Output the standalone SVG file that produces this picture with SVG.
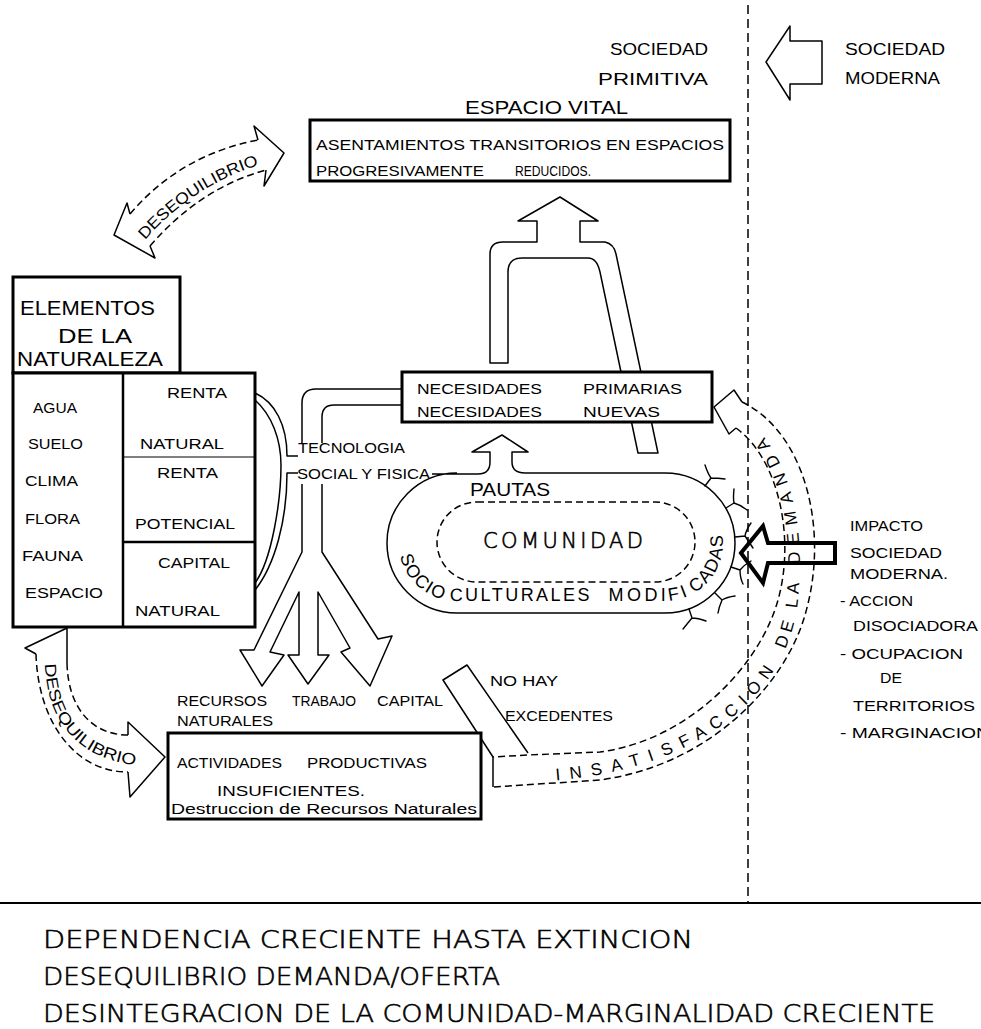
<svg xmlns="http://www.w3.org/2000/svg" width="981" height="1029" viewBox="0 0 981 1029">
<defs>
<style>
text{font-family:"Liberation Sans Narrow","Liberation Sans",Arial,sans-serif;fill:#000}
.f14{font-size:14px}
.f15{font-size:15px}
.f17{font-size:17px}
.f19{font-size:19px}
.f20{font-size:20px}
.thin{font-family:"DejaVu Sans","Liberation Sans",sans-serif;font-weight:200;stroke:#000;stroke-width:0.6}
.f25{font-size:25px}
.box{fill:#fff;stroke:#000;stroke-width:3}
.ln{fill:none;stroke:#000;stroke-width:1.5;stroke-linejoin:round}
.wf{fill:#fff;stroke:#000;stroke-width:1.5;stroke-linejoin:round}
.dsh{fill:none;stroke:#000;stroke-width:1.5;stroke-dasharray:7 4}
.ray{fill:none;stroke:#000;stroke-width:1.4;stroke-linecap:round}
</style>
<path id="pDesTop" d="M145,240 Q195,183 266,163"/>
<path id="pDesBot" d="M45,664 C47,728 85,765 152,766"/>
<path id="pSocio" d="M399,550 A58,58 0 0 0 457,601 L665,601 A58,58 0 0 0 715,514"/>
<path id="pInsat" d="M548,781 C690,772 788,700 798,600 C806,520 788,455 748,420"/>
</defs>
<rect width="981" height="1029" fill="#fff"/>

<g id="sociedad-header">
<text class="f17" x="610" y="55" textLength="98" lengthAdjust="spacingAndGlyphs">SOCIEDAD</text>
<text class="f17" x="598" y="85" textLength="110" lengthAdjust="spacingAndGlyphs">PRIMITIVA</text>
<path class="wf" d="M766,62 L790,26 L790,41 L822,41 L822,84 L790,84 L790,100 Z"/>
<text class="f17" x="845" y="55" textLength="100" lengthAdjust="spacingAndGlyphs">SOCIEDAD</text>
<text class="f17" x="845" y="84" textLength="95" lengthAdjust="spacingAndGlyphs">MODERNA</text>
</g>

<g id="connectors">
<g id="desequilibrio-top">
<path d="M130,214 Q180,155 258,140 L254,126 L284,153 L264,186 L266,170 Q200,188 150,246 L155,258 L114,235 L127,203 Z" fill="#fff"/>
<path class="dsh" d="M130,214 Q180,155 258,140"/>
<path class="dsh" d="M150,246 Q200,188 266,170"/>
<path class="ln" d="M258,140 L254,126 L284,153 L264,186 L266,170"/>
<path class="ln" d="M150,246 L155,258 L114,235 L127,203 L130,214"/>
<text style="font-size:16px"><textPath href="#pDesTop" textLength="138" lengthAdjust="spacingAndGlyphs">DESEQUILIBRIO</textPath></text>
</g>
<g id="desequilibrio-bottom">
<path class="dsh" d="M36,654 C38,722 75,772 128,772"/>
<path class="dsh" d="M67,663 C68,708 92,735 128,735"/>
<path class="ln" d="M67,663 L67,628 L25,648 L36,654"/>
<path class="ln" d="M128,772 L130,797 L165,757 L128,722 L128,735"/>
<text style="font-size:16px"><textPath href="#pDesBot" textLength="150" lengthAdjust="spacingAndGlyphs">DESEQUILIBRIO</textPath></text>
</g>
<path class="ln" d="M255,393 C275,402 287,425 287,456 L298,456"/>
<path class="ln" d="M255,400 C272,415 281,440 281,465 C281,500 272,560 255,583"/>
<path class="ln" d="M298,473 L287,473 C287,520 275,565 255,590"/>
<path class="ln" d="M402,389 L316,389 Q302,389 302,403 L302,443"/>
<path class="ln" d="M402,405 L334,405 Q322,405 322,417 L322,443"/>
<path class="ln" d="M302,484 L302,552 L254,650 L240,650 L262,686 L284,655 L270,652 L299,592 L299,655 L288,655 L308,684 L329,655 L318,655 L318,592 L350,648 L341,652 L370,686 L392,636 L378,639 L322,552 L322,484"/>
<path class="wf" d="M508,363 L490,363 L490,254 Q490,242 503,242 L537,242 L537,221 L518,221 L560,197 L598,221 L580,221 L580,242 L605,242 Q614,244 616,254 L658,453 L638,453 L600,272 Q597,258 588,258 L522,258 Q508,258 508,272 Z"/>
<path class="ln" d="M493,757 L443,680 L467,665 L528,753"/>
<g id="insatisfaccion">
<path class="dsh" d="M742,402 C805,432 830,530 805,615 C785,685 710,765 600,780 L493,787"/>
<path class="dsh" d="M736,428 C780,460 795,540 778,600 C760,665 690,740 600,752 L528,755 L493,757"/>
<path class="ln" d="M493,757 L493,787"/>
<path class="ln" d="M742,402 L734,390 L714,407 L729,434 L736,428"/>
<text class="f17"><textPath href="#pInsat" startOffset="8" textLength="122" lengthAdjust="spacing">INSATIS</textPath></text>
<text class="f17"><textPath href="#pInsat" startOffset="139" textLength="122" lengthAdjust="spacing">FACCION</textPath></text>
<text class="f17"><textPath href="#pInsat" startOffset="285" textLength="68" lengthAdjust="spacing">DE LA</textPath></text>
<text class="f17"><textPath href="#pInsat" startOffset="372" textLength="134" lengthAdjust="spacing">DEMANDA</textPath></text>
</g>
<path id="impact-arrow" d="M741,553 L763,526 L768,543 L835,543 L835,563 L768,563 L763,583 Z" fill="none" stroke="#000" stroke-width="4" stroke-linejoin="miter"/>
</g>

<g id="espacio-vital">
<text class="f19" x="465" y="114" textLength="163" lengthAdjust="spacingAndGlyphs">ESPACIO  VITAL</text>
<rect class="box" x="310" y="120" width="420" height="61"/>
<text class="f15" x="316" y="150" textLength="408" lengthAdjust="spacingAndGlyphs">ASENTAMIENTOS  TRANSITORIOS  EN  ESPACIOS</text>
<text class="f15" x="316" y="176" textLength="168" lengthAdjust="spacingAndGlyphs">PROGRESIVAMENTE</text>
<text class="f14" x="515" y="176" textLength="76" lengthAdjust="spacingAndGlyphs">REDUCIDOS.</text>
</g>

<g id="elementos">
<rect class="box" x="13" y="277" width="167" height="96"/>
<text class="f20" x="20" y="315" textLength="135" lengthAdjust="spacingAndGlyphs">ELEMENTOS</text>
<text class="f20" x="58" y="343" textLength="74" lengthAdjust="spacingAndGlyphs">DE  LA</text>
<text class="f20" x="17" y="366" textLength="146" lengthAdjust="spacingAndGlyphs">NATURALEZA</text>
<rect class="box" x="13" y="373" width="242" height="254"/>
<line x1="123" y1="373" x2="123" y2="627" stroke="#000" stroke-width="2.5"/>
<line x1="123" y1="457" x2="255" y2="457" stroke="#000" stroke-width="1.2"/>
<line x1="123" y1="542" x2="255" y2="542" stroke="#000" stroke-width="2.5"/>
<text class="f14" x="33" y="413" textLength="44" lengthAdjust="spacingAndGlyphs">AGUA</text>
<text class="f14" x="28" y="449" textLength="55" lengthAdjust="spacingAndGlyphs">SUELO</text>
<text class="f14" x="25" y="486" textLength="53" lengthAdjust="spacingAndGlyphs">CLIMA</text>
<text class="f14" x="25" y="524" textLength="55" lengthAdjust="spacingAndGlyphs">FLORA</text>
<text class="f14" x="22" y="561" textLength="61" lengthAdjust="spacingAndGlyphs">FAUNA</text>
<text class="f14" x="25" y="598" textLength="78" lengthAdjust="spacingAndGlyphs">ESPACIO</text>
<text class="f14" x="167" y="398" textLength="60" lengthAdjust="spacingAndGlyphs">RENTA</text>
<text class="f14" x="140" y="449" textLength="84" lengthAdjust="spacingAndGlyphs">NATURAL</text>
<text class="f14" x="157" y="478" textLength="61" lengthAdjust="spacingAndGlyphs">RENTA</text>
<text class="f14" x="135" y="529" textLength="100" lengthAdjust="spacingAndGlyphs">POTENCIAL</text>
<text class="f14" x="158" y="568" textLength="72" lengthAdjust="spacingAndGlyphs">CAPITAL</text>
<text class="f14" x="135" y="616" textLength="85" lengthAdjust="spacingAndGlyphs">NATURAL</text>
</g>

<g id="necesidades">
<rect class="box" x="402" y="372" width="310" height="50"/>
<text class="f14" x="417" y="394" textLength="125" lengthAdjust="spacingAndGlyphs">NECESIDADES</text>
<text class="f14" x="583" y="394" textLength="99" lengthAdjust="spacingAndGlyphs">PRIMARIAS</text>
<text class="f14" x="417" y="417" textLength="125" lengthAdjust="spacingAndGlyphs">NECESIDADES</text>
<text class="f14" x="583" y="417" textLength="77" lengthAdjust="spacingAndGlyphs">NUEVAS</text>
</g>

<g id="tecnologia">
<text class="f14" x="298" y="453" textLength="107" lengthAdjust="spacingAndGlyphs">TECNOLOGIA</text>
<text class="f14" x="297" y="479" textLength="133" lengthAdjust="spacingAndGlyphs">SOCIAL Y FISICA</text>
</g>

<g id="comunidad">
<path class="ln" d="M432,474 L478,474 Q490,474 490,462 L490,452 L472,452 L502,435 L528,452 L512,452 L512,462 Q512,473 525,473 L665,473 A70,70 0 0 1 665,613 L457,613 A70,70 0 0 1 457,473"/>
<rect class="dsh" x="437" y="502" width="258" height="80" rx="40" ry="40"/>
<text style="font-size:18px" x="470" y="496" textLength="80" lengthAdjust="spacingAndGlyphs">PAUTAS</text>
<text class="thin" style="font-size:21px" x="483" y="548" textLength="160" lengthAdjust="spacing">COMUNIDAD</text>
<text style="font-size:18px"><textPath href="#pSocio" startOffset="6" textLength="64" lengthAdjust="spacing">SOCIO</textPath></text>
<text style="font-size:18px"><textPath href="#pSocio" startOffset="77" textLength="140" lengthAdjust="spacing">CULTURALES</textPath></text>
<text style="font-size:18px"><textPath href="#pSocio" startOffset="236" textLength="80" lengthAdjust="spacing">MODIFI</textPath></text>
<text style="font-size:18px"><textPath href="#pSocio" startOffset="323" textLength="68" lengthAdjust="spacing">CADAS</textPath></text>
<g id="rays">
<path class="ray" d="M705,486 L711,478 M705,465 Q708,474 711,478 Q718,478 725,479"/>
<path class="ray" d="M726,508 L734,503 M734,489 Q733,498 734,503 Q741,505 747,510"/>
<path class="ray" d="M735,537 L745,536 M751,523 Q746,530 745,536 Q749,542 753,548"/>
<path class="ray" d="M731,567 L740,570 M751,561 Q744,565 740,570 Q740,578 743,584"/>
<path class="ray" d="M715,593 L722,600 M735,596 Q727,597 722,600 Q719,607 718,613"/>
<path class="ray" d="M689,609 L692,618 M706,621 Q698,618 692,618 Q687,624 683,629"/>
</g>
</g>

<g id="recursos">
<text class="f15" x="177" y="706" textLength="90" lengthAdjust="spacingAndGlyphs">RECURSOS</text>
<text class="f15" x="177" y="726" textLength="96" lengthAdjust="spacingAndGlyphs">NATURALES</text>
<text class="f15" x="292" y="706" textLength="64" lengthAdjust="spacingAndGlyphs">TRABAJO</text>
<text class="f15" x="377" y="706" textLength="66" lengthAdjust="spacingAndGlyphs">CAPITAL</text>
<text class="f14" x="490" y="686" textLength="68" lengthAdjust="spacingAndGlyphs">NO  HAY</text>
<text class="f14" x="505" y="721" textLength="108" lengthAdjust="spacingAndGlyphs">EXCEDENTES</text>
</g>

<g id="actividades">
<rect class="box" x="168" y="733" width="313" height="86"/>
<text class="f14" x="177" y="768" textLength="105" lengthAdjust="spacingAndGlyphs">ACTIVIDADES</text>
<text class="f14" x="307" y="768" textLength="120" lengthAdjust="spacingAndGlyphs">PRODUCTIVAS</text>
<text class="f14" x="217" y="796" textLength="148" lengthAdjust="spacingAndGlyphs">INSUFICIENTES.</text>
<text class="f14" x="171" y="814" textLength="306" lengthAdjust="spacingAndGlyphs">Destruccion de Recursos Naturales</text>
</g>

<g id="impacto">
<text class="f14" x="850" y="531" textLength="73" lengthAdjust="spacingAndGlyphs">IMPACTO</text>
<text class="f14" x="850" y="558" textLength="92" lengthAdjust="spacingAndGlyphs">SOCIEDAD</text>
<text class="f14" x="850" y="579" textLength="98" lengthAdjust="spacingAndGlyphs">MODERNA.</text>
<text class="f14" x="840" y="606" textLength="73" lengthAdjust="spacingAndGlyphs">- ACCION</text>
<text class="f14" x="853" y="631" textLength="125" lengthAdjust="spacingAndGlyphs">DISOCIADORA</text>
<text class="f14" x="840" y="659" textLength="123" lengthAdjust="spacingAndGlyphs">- OCUPACION</text>
<text class="f14" x="880" y="683" textLength="22" lengthAdjust="spacingAndGlyphs">DE</text>
<text class="f14" x="853" y="711" textLength="122" lengthAdjust="spacingAndGlyphs">TERRITORIOS</text>
<text class="f14" x="840" y="738" textLength="150" lengthAdjust="spacingAndGlyphs">- MARGINACION</text>
</g>

<g id="divisores">
<line x1="748" y1="5" x2="748" y2="903" stroke="#000" stroke-width="1.5" stroke-dasharray="9 5"/>
<line x1="0" y1="903" x2="981" y2="903" stroke="#000" stroke-width="2"/>
</g>

<g id="conclusiones">
<text class="f25 thin" x="43" y="948" textLength="650" lengthAdjust="spacingAndGlyphs">DEPENDENCIA  CRECIENTE   HASTA   EXTINCION</text>
<text class="f25 thin" x="43" y="985" textLength="457" lengthAdjust="spacingAndGlyphs">DESEQUILIBRIO DEMANDA/OFERTA</text>
<text class="f25 thin" x="43" y="1022" textLength="892" lengthAdjust="spacingAndGlyphs">DESINTEGRACION  DE LA COMUNIDAD-MARGINALIDAD CRECIENTE</text>
</g>
</svg>
